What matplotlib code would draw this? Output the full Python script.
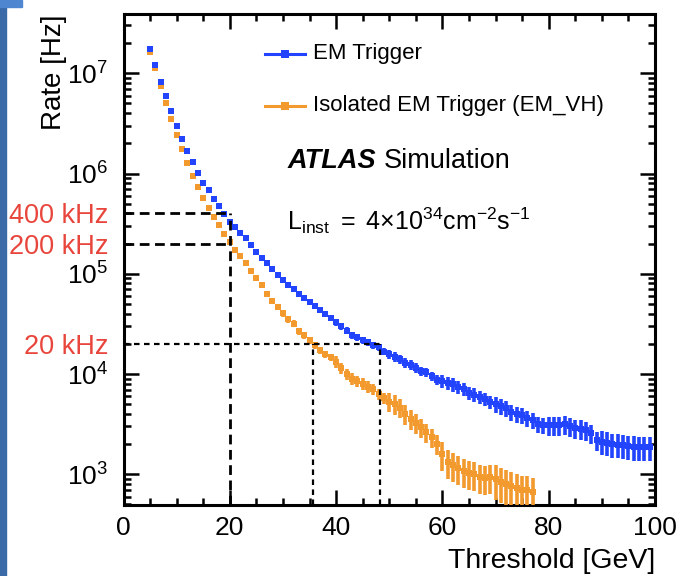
import numpy as np
import matplotlib.pyplot as plt
from matplotlib.patches import Rectangle
from matplotlib.ticker import MultipleLocator, LogLocator, NullFormatter

plt.rcParams['font.family'] = ['Liberation Sans', 'DejaVu Sans']
plt.rcParams['mathtext.fontset'] = 'custom'
plt.rcParams['mathtext.rm'] = 'Liberation Sans'
plt.rcParams['mathtext.it'] = 'Liberation Sans:italic'
plt.rcParams['mathtext.bf'] = 'Liberation Sans:bold'

# trigger rates in 1 GeV threshold bins
em_thr = np.arange(5, 100)
em_rate = [
    1.76e7, 1.21e7, 8.26e6, 5.89e6, 4.17e6, 2.95e6, 2.19e6, 1.66e6, 1.31e6, 1.02e6,
    8.05e5, 6.81e5, 5.55e5, 4.69e5, 3.93e5, 3.29e5, 2.92e5, 2.57e5, 2.25e5, 1.93e5,
    1.65e5, 1.44e5, 1.27e5, 1.11e5, 9.68e4, 8.57e4, 7.69e4, 6.97e4, 6.31e4, 5.68e4,
    5.18e4, 4.75e4, 4.34e4, 3.95e4, 3.66e4, 3.31e4, 3.02e4, 2.70e4, 2.45e4, 2.32e4,
    2.18e4, 2.07e4, 1.94e4, 1.84e4, 1.67e4, 1.58e4, 1.48e4, 1.40e4, 1.29e4, 1.23e4,
    1.16e4, 1.07e4, 1.04e4, 9.51e3, 8.81e3, 8.55e3, 8.17e3, 7.87e3, 7.41e3, 7.08e3,
    6.46e3, 6.24e3, 5.89e3, 5.62e3, 5.25e3, 5.01e3, 4.79e3, 4.57e3, 4.17e3, 3.98e3,
    3.89e3, 3.63e3, 3.47e3, 3.16e3, 3.09e3, 3.09e3, 3.09e3, 3.09e3, 3.16e3, 3.02e3,
    2.88e3, 2.85e3, 2.75e3, 2.57e3, 2.19e3, 2.11e3, 2.07e3, 2.00e3, 1.97e3, 1.95e3,
    1.91e3, 1.88e3, 1.86e3, 1.86e3, 1.86e3,
]
em_relerr = [
    0.01, 0.01, 0.01, 0.01, 0.01, 0.01, 0.01, 0.01, 0.01, 0.01,
    0.01, 0.01, 0.01, 0.01, 0.01, 0.03, 0.03, 0.03, 0.03, 0.03,
    0.03, 0.03, 0.03, 0.03, 0.03, 0.05, 0.05, 0.05, 0.05, 0.05,
    0.05, 0.05, 0.05, 0.05, 0.05, 0.08, 0.08, 0.08, 0.08, 0.08,
    0.08, 0.08, 0.08, 0.08, 0.08, 0.11, 0.11, 0.11, 0.11, 0.11,
    0.11, 0.11, 0.11, 0.11, 0.11, 0.15, 0.15, 0.15, 0.15, 0.15,
    0.15, 0.15, 0.15, 0.15, 0.15, 0.18, 0.18, 0.18, 0.18, 0.18,
    0.18, 0.18, 0.18, 0.18, 0.18, 0.22, 0.22, 0.22, 0.22, 0.22,
    0.22, 0.22, 0.22, 0.22, 0.22, 0.27, 0.27, 0.27, 0.27, 0.27,
    0.27, 0.27, 0.27, 0.27, 0.27,
]

iso_thr = np.arange(5, 78)
iso_rate = [
    1.64e7, 1.12e7, 7.46e6, 5.06e6, 3.50e6, 2.40e6, 1.74e6, 1.26e6, 9.55e5, 7.35e5,
    5.75e5, 4.54e5, 3.69e5, 3.05e5, 2.51e5, 2.07e5, 1.74e5, 1.51e5, 1.27e5, 1.06e5,
    9.10e4, 7.69e4, 6.31e4, 5.33e4, 4.61e4, 4.02e4, 3.52e4, 3.19e4, 2.69e4, 2.45e4,
    2.19e4, 1.95e4, 1.74e4, 1.58e4, 1.48e4, 1.33e4, 1.15e4, 1.00e4, 9.02e3, 8.51e3,
    8.04e3, 7.50e3, 7.08e3, 6.31e3, 5.75e3, 5.31e3, 5.01e3, 4.62e3, 3.98e3, 3.55e3,
    3.24e3, 2.95e3, 2.63e3, 2.34e3, 2.00e3, 1.58e3, 1.32e3, 1.23e3, 1.15e3, 1.07e3,
    1.02e3, 1.00e3, 933, 912, 933, 891, 832, 794, 759, 724,
    692, 692, 661,
]
iso_relerr = [
    0.01, 0.01, 0.01, 0.01, 0.01, 0.01, 0.01, 0.01, 0.01, 0.01,
    0.01, 0.01, 0.01, 0.01, 0.01, 0.04, 0.04, 0.04, 0.04, 0.04,
    0.04, 0.04, 0.04, 0.04, 0.04, 0.08, 0.08, 0.08, 0.08, 0.08,
    0.08, 0.08, 0.08, 0.08, 0.08, 0.13, 0.13, 0.13, 0.13, 0.13,
    0.13, 0.13, 0.13, 0.13, 0.13, 0.22, 0.22, 0.22, 0.22, 0.22,
    0.22, 0.22, 0.22, 0.22, 0.22, 0.32, 0.32, 0.32, 0.32, 0.32,
    0.32, 0.32, 0.32, 0.32, 0.32, 0.38, 0.38, 0.38, 0.38, 0.38,
    0.38, 0.38, 0.38,
]

# target bandwidths and the thresholds where they are reached
rate_marks = [4e5, 2e5, 2e4]
rate_labels = ['400 kHz', '200 kHz', '20 kHz']
thr_400khz = 20
thr_20khz_iso = 35.7
thr_20khz_em = 48.3

BLUE = '#2244ff'
ORANGE = '#f29a2e'
RED = '#e8463c'

W, H = 681, 576
L, R, T, B = 123.5, 655, 14, 505

fig = plt.figure(figsize=(W / 100, H / 100), dpi=100)
ax = fig.add_axes([L / W, 1 - B / H, (R - L) / W, (B - T) / H])

# slide background strip
fig.patches.append(Rectangle((0, 0), 6 / W, 1, transform=fig.transFigure,
                             color='#3a6aa8', zorder=0))
fig.patches.append(Rectangle((0, 1 - 7 / H), 22 / W, 7 / H, transform=fig.transFigure,
                             color='#4e86d0', zorder=0))


def px(x, y):
    """pixel position -> axes fraction"""
    return (x - L) / (R - L), (B - y) / (B - T)


def draw_rates(x, rate, relerr, color):
    rate = np.asarray(rate)
    err = rate * np.asarray(relerr)
    ax.errorbar(x, rate, xerr=0.5, yerr=[err, err], fmt='s', ms=3.8, mew=0,
                color=color, elinewidth=2.6, capsize=0, zorder=3)


draw_rates(iso_thr, iso_rate, iso_relerr, ORANGE)
draw_rates(em_thr, em_rate, em_relerr, BLUE)

ax.set_yscale('log')
ax.set_xlim(0, 100)
ax.set_ylim(494, 3.9e7)
ymin = ax.get_ylim()[0]

# dashed guide lines
ax.plot([0, thr_400khz], [rate_marks[0]] * 2, color='k', lw=2.0, ls=(0, (3.5, 2)), zorder=4)
ax.plot([0, thr_400khz], [rate_marks[1]] * 2, color='k', lw=2.0, ls=(0, (3.5, 2)), zorder=4)
ax.plot([thr_400khz] * 2, [ymin, rate_marks[0]], color='k', lw=2.0, ls=(0, (3.5, 2)), zorder=4)
ax.plot([0, thr_20khz_em], [rate_marks[2]] * 2, color='k', lw=1.6, ls=(0, (2.5, 2)), zorder=4)
ax.plot([thr_20khz_iso] * 2, [ymin, rate_marks[2]], color='k', lw=1.6, ls=(0, (2.5, 2)), zorder=4)
ax.plot([thr_20khz_em] * 2, [ymin, rate_marks[2]], color='k', lw=1.6, ls=(0, (2.5, 2)), zorder=4)

# axes styling
for sp in ax.spines.values():
    sp.set_linewidth(2.2)
ax.xaxis.set_major_locator(MultipleLocator(20))
ax.xaxis.set_minor_locator(MultipleLocator(5))
ax.yaxis.set_major_locator(LogLocator(base=10, numticks=20))
ax.yaxis.set_minor_locator(LogLocator(base=10, subs=np.arange(2, 10), numticks=50))
ax.yaxis.set_minor_formatter(NullFormatter())
ax.tick_params(which='both', direction='in', top=True, right=True, width=1.8)
ax.tick_params(which='major', length=10.5, labelsize=19)
ax.tick_params(which='minor', length=5)
ax.tick_params(axis='x', which='major', pad=8)
ax.tick_params(axis='y', which='major', pad=11)

ytr = ax.get_yaxis_transform()
for val, lab in zip(rate_marks, rate_labels):
    ax.text(-15 / (R - L), val, lab, transform=ytr, ha='right', va='center_baseline',
            color=RED, fontsize=19.5)

ax.set_xlabel('Threshold [GeV]', fontsize=20.5, ha='right')
ax.xaxis.set_label_coords(1.0, -0.088)
ax.set_ylabel('Rate [Hz]', fontsize=20, ha='right')
ax.yaxis.set_label_coords(-0.106, 1.0)

# legend
entries = [('EM Trigger', BLUE, 54), ('Isolated EM Trigger (EM_VH)', ORANGE, 106)]
for label, color, yp in entries:
    x0, y0 = px(265, yp)
    x1, _ = px(305, yp)
    xc, _ = px(285, yp)
    ax.plot([x0, x1], [y0, y0], color=color, lw=2.2, transform=ax.transAxes, zorder=5)
    ax.plot([xc], [y0], 's', color=color, ms=6, mew=0, transform=ax.transAxes, zorder=5)
    xt, yt = px(313, yp)
    ax.text(xt, yt, label, transform=ax.transAxes, va='center', fontsize=16)

xa, ya = px(288, 168)
ax.text(xa, ya, 'ATLAS', transform=ax.transAxes, fontsize=19.5, fontweight='bold',
        fontstyle='italic', va='baseline')
xs, _ = px(384, 168)
ax.text(xs, ya, 'Simulation', transform=ax.transAxes, fontsize=19.5, va='baseline')

xl, yl = px(287, 230)
ax.text(xl, yl, r'$\mathrm{L}_{\mathrm{inst}}\mathrm{\ =\ 4×10}^{34}\mathrm{cm}^{-2}\mathrm{s}^{-1}$',
        transform=ax.transAxes, fontsize=18, va='baseline')

fig.savefig('out.png', dpi=100)
